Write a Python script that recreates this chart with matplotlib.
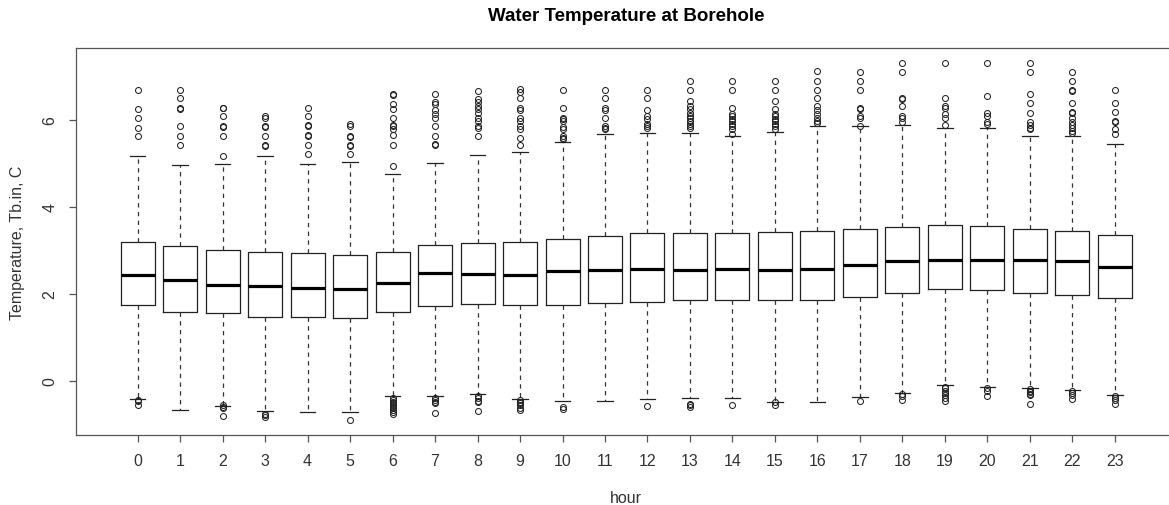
import matplotlib

matplotlib.use("Agg")
import matplotlib.pyplot as plt

plt.rcParams["font.family"] = ["Liberation Sans", "DejaVu Sans"]

hours = list(range(24))

# box statistics
whisker_low = [-0.42, -0.67, -0.59, -0.69, -0.73, -0.73, -0.36, -0.36, -0.31, -0.42,
               -0.47, -0.46, -0.42, -0.41, -0.41, -0.48, -0.48, -0.38, -0.28, -0.11,
               -0.15, -0.17, -0.21, -0.34]
q1 = [1.75, 1.57, 1.56, 1.46, 1.46, 1.43, 1.59, 1.71, 1.76, 1.74,
      1.74, 1.78, 1.80, 1.85, 1.85, 1.85, 1.85, 1.92, 2.02, 2.11,
      2.08, 2.02, 1.97, 1.89]
median = [2.44, 2.32, 2.21, 2.17, 2.13, 2.11, 2.25, 2.48, 2.46, 2.44,
          2.53, 2.55, 2.57, 2.55, 2.57, 2.55, 2.57, 2.67, 2.76, 2.78,
          2.78, 2.78, 2.76, 2.61]
q3 = [3.20, 3.09, 3.00, 2.95, 2.93, 2.88, 2.95, 3.13, 3.16, 3.20,
      3.26, 3.33, 3.39, 3.39, 3.39, 3.41, 3.45, 3.49, 3.54, 3.59,
      3.56, 3.49, 3.45, 3.36]
whisker_high = [5.16, 4.96, 4.98, 5.17, 4.98, 5.02, 4.75, 5.00, 5.20, 5.26,
                5.49, 5.68, 5.70, 5.70, 5.62, 5.72, 5.85, 5.85, 5.88, 5.80,
                5.80, 5.63, 5.62, 5.44]

outliers_high = [
    [6.69, 6.25, 6.04, 5.82, 5.62],
    [6.69, 6.49, 6.28, 6.25, 5.85, 5.63, 5.43],
    [6.28, 6.26, 6.08, 5.86, 5.84, 5.63, 5.17],
    [6.08, 6.04, 5.86, 5.84, 5.63, 5.43, 5.39],
    [6.28, 6.08, 5.88, 5.85, 5.66, 5.63, 5.43, 5.21],
    [5.90, 5.85, 5.63, 5.60, 5.43, 5.39, 5.21],
    [6.59, 6.56, 6.36, 6.25, 6.04, 5.88, 5.85, 5.79, 5.66, 5.43, 4.94],
    [6.59, 6.40, 6.36, 6.23, 6.13, 6.04, 5.86, 5.63, 5.44, 5.42],
    [6.65, 6.47, 6.40, 6.32, 6.25, 6.15, 6.04, 5.98, 5.86, 5.81, 5.63],
    [6.70, 6.63, 6.49, 6.26, 6.23, 6.04, 5.98, 5.86, 5.79, 5.58, 5.43],
    [6.69, 6.27, 6.05, 6.01, 5.98, 5.84, 5.79, 5.63, 5.58, 5.56],
    [6.69, 6.49, 6.28, 6.23, 6.03, 5.85, 5.82, 5.79],
    [6.69, 6.49, 6.23, 6.08, 6.02, 5.90, 5.85, 5.81],
    [6.90, 6.69, 6.44, 6.32, 6.25, 6.15, 6.08, 6.04, 5.98, 5.90, 5.85, 5.81],
    [6.90, 6.69, 6.28, 6.13, 6.08, 6.02, 5.96, 5.90, 5.85, 5.79, 5.67],
    [6.90, 6.69, 6.44, 6.25, 6.13, 6.08, 6.02, 5.96, 5.90, 5.85, 5.79],
    [7.11, 6.90, 6.69, 6.50, 6.32, 6.23, 6.13, 6.04, 5.98, 5.92],
    [7.09, 6.90, 6.69, 6.28, 6.25, 6.08, 6.04, 5.86],
    [7.30, 7.09, 6.50, 6.47, 6.32, 6.09, 6.05, 5.94],
    [7.30, 6.51, 6.32, 6.28, 6.13, 6.04, 5.88],
    [7.30, 6.54, 6.15, 6.09, 5.94, 5.90],
    [7.30, 7.09, 6.59, 6.38, 6.15, 5.95, 5.88, 5.82, 5.78],
    [7.09, 6.88, 6.69, 6.67, 6.38, 6.18, 6.15, 6.03, 5.95, 5.88, 5.82, 5.75, 5.70],
    [6.69, 6.38, 6.17, 5.98, 5.95, 5.79, 5.67],
]
outliers_low = [
    [-0.44, -0.46, -0.57],
    [],
    [-0.57, -0.60, -0.63, -0.82],
    [-0.76, -0.79, -0.83],
    [],
    [-0.90],
    [-0.40, -0.44, -0.48, -0.52, -0.56, -0.60, -0.64, -0.68, -0.72, -0.76],
    [-0.40, -0.44, -0.48, -0.52, -0.74],
    [-0.36, -0.41, -0.46, -0.50, -0.70],
    [-0.44, -0.48, -0.52, -0.57, -0.63, -0.67],
    [-0.60, -0.65],
    [],
    [-0.59],
    [-0.54, -0.57, -0.61],
    [-0.55],
    [-0.50, -0.55],
    [],
    [-0.46],
    [-0.30, -0.36, -0.44],
    [-0.14, -0.18, -0.23, -0.28, -0.34, -0.40, -0.46],
    [-0.18, -0.23, -0.36],
    [-0.20, -0.23, -0.26, -0.30, -0.34, -0.54],
    [-0.24, -0.29, -0.34, -0.42],
    [-0.36, -0.40, -0.45, -0.54],
]

W, H = 1169, 506
fig = plt.figure(figsize=(W / 100, H / 100), dpi=100)
left, right, top, bottom = 75.5, 1177, 49, 436
ax = fig.add_axes([left / W, 1 - bottom / H, (right - left) / W, (bottom - top) / H])

stats = []
for i, h in enumerate(hours):
    stats.append({
        "whislo": whisker_low[i],
        "q1": q1[i],
        "med": median[i],
        "q3": q3[i],
        "whishi": whisker_high[i],
        "fliers": outliers_high[i] + outliers_low[i],
        "label": str(h),
    })

ink = "#222222"
ax.bxp(
    stats,
    positions=hours,
    widths=0.8,
    capwidths=0.36,
    boxprops={"color": ink, "linewidth": 0.9},
    medianprops={"color": "black", "linewidth": 2.3, "solid_capstyle": "butt"},
    whiskerprops={"color": "#333333", "linewidth": 0.9, "linestyle": (0, (3.5, 3.5))},
    capprops={"color": ink, "linewidth": 0.9},
    flierprops={"marker": "o", "markersize": 4.3, "markerfacecolor": "none",
                "markeredgecolor": ink, "markeredgewidth": 0.75, "linestyle": "none"},
)

ax.set_xlim(-1.46, 24.46)
ax.set_ylim(-1.25, 7.65)
ax.set_xticks(hours)
ax.set_xticklabels([str(h) for h in hours])
ax.set_yticks([0, 2, 4, 6])
ax.set_yticklabels(["0", "2", "4", "6"], rotation=90, va="center")

for side in ["left", "bottom", "top", "right"]:
    ax.spines[side].set_color("#555555")
    ax.spines[side].set_linewidth(0.9)

ax.tick_params(axis="both", direction="out", length=5, width=0.9, color="#555555",
               labelsize=11.5, labelcolor="#333333")
ax.tick_params(axis="x", pad=8)
ax.tick_params(axis="y", pad=8)

fig.text(626 / W, 1 - 20.7 / H, "Water Temperature at Borehole", ha="center",
         va="baseline", fontsize=13.5, fontweight="bold", color="black")
fig.text(626 / W, 1 - 503 / H, "hour", ha="center", va="baseline",
         fontsize=11.5, color="#333333")
fig.text(18 / W, 1 - 242.5 / H, "Temperature, Tb.in, C", ha="center", va="center",
         rotation=90, fontsize=11.5, color="#333333")

fig.savefig("out.png", dpi=100)
